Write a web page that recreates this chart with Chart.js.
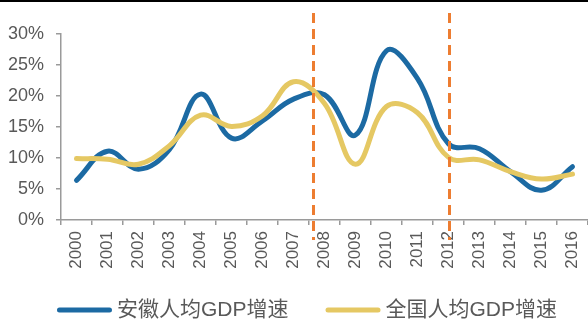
<!DOCTYPE html>
<html>
<head>
<meta charset="utf-8">
<script src="https://cdn.jsdelivr.net/npm/chart.js@4/dist/chart.umd.min.js"></script>
<style>
  html, body { margin: 0; padding: 0; background: #ffffff; overflow: hidden; }
  #wrap { position: relative; width: 588px; height: 320px; }
</style>
</head>
<body>
<div id="wrap"><canvas id="growth" width="588" height="320"></canvas></div>
<script>
// Per-capita GDP growth, Anhui vs. national (%)
const years = ['2000', '2001', '2002', '2003', '2004', '2005', '2006', '2007', '2008',
               '2009', '2010', '2011', '2012', '2013', '2014', '2015', '2016'];
const anhuiGrowth    = [6.4, 11.1, 8.2, 11.4, 20.3, 13.2, 16.0, 19.5, 20.2,
                        13.7, 27.3, 22.8, 12.3, 11.5, 7.8, 4.8, 8.6];
const nationalGrowth = [9.9, 9.8, 9.0, 12.0, 16.9, 15.1, 16.8, 22.3, 18.8,
                        9.0, 18.3, 17.3, 10.1, 9.7, 7.8, 6.6, 7.4];
const seriesNames = ['安徽人均GDP增速', '全国人均GDP增速'];
const yTickValues = [0, 5, 10, 15, 20, 25, 30];
// Period boundaries, in category-index units along the year axis
const periodMarks = [7.62, 12];

const FONT = '"Liberation Sans", "Noto Sans CJK SC", Arial, sans-serif';
const TEXT = '#595959';
const AXIS = '#9a9a9a';
const BLUE = '#1c6aa3';
const GOLD = '#e5c863';
const ORANGE = '#ed7d31';

// Thin black rule across the top edge
const topRule = {
  id: 'topRule',
  afterDraw(chart) {
    const ctx = chart.ctx;
    ctx.save();
    ctx.fillStyle = '#000000';
    ctx.fillRect(0, 0, chart.width, 2);
    ctx.restore();
  }
};

// Dashed vertical period markers
const periodLines = {
  id: 'periodLines',
  afterDatasetsDraw(chart) {
    const { ctx, chartArea, scales } = chart;
    ctx.save();
    ctx.strokeStyle = ORANGE;
    ctx.lineWidth = 3;
    ctx.setLineDash([10, 6]);
    periodMarks.forEach(m => {
      const x = Math.round(scales.x.getPixelForValue(m)) + 0.5;
      ctx.beginPath();
      ctx.moveTo(x, chartArea.top - 21);
      ctx.lineTo(x, chartArea.bottom + 20);
      ctx.stroke();
    });
    ctx.restore();
  }
};

// Legend row under the axis labels
const legendRow = {
  id: 'legendRow',
  afterDraw(chart) {
    const ctx = chart.ctx;
    const sets = chart.data.datasets;
    const lineLen = 55, gap = 5, itemGap = 37, y = 310;
    ctx.save();
    ctx.font = '21px ' + FONT;
    ctx.textBaseline = 'middle';
    ctx.textAlign = 'left';
    const widths = sets.map(d => ctx.measureText(d.label).width);
    const total = widths.reduce((s, w) => s + lineLen + gap + w, 0) + itemGap * (sets.length - 1);
    let x = chart.width / 2 + 13 - total / 2;
    sets.forEach((d, i) => {
      ctx.strokeStyle = d.borderColor;
      ctx.lineWidth = 5;
      ctx.lineCap = 'round';
      ctx.beginPath();
      ctx.moveTo(x + 2.5, y);
      ctx.lineTo(x + lineLen - 2.5, y);
      ctx.stroke();
      ctx.fillStyle = TEXT;
      ctx.fillText(d.label, x + lineLen + gap, y);
      x += lineLen + gap + widths[i] + itemGap;
    });
    ctx.restore();
  }
};

new Chart(document.getElementById('growth'), {
  type: 'line',
  data: {
    labels: years,
    datasets: [
      {
        label: seriesNames[0],
        data: anhuiGrowth,
        borderColor: BLUE,
        backgroundColor: BLUE,
        borderWidth: 5,
        order: 2
      },
      {
        label: seriesNames[1],
        data: nationalGrowth,
        borderColor: GOLD,
        backgroundColor: GOLD,
        borderWidth: 5,
        order: 1
      }
    ]
  },
  options: {
    responsive: false,
    animation: false,
    devicePixelRatio: 1,
    layout: { padding: { top: 34, left: 0, right: 0, bottom: 0 } },
    elements: {
      line: { tension: 0.4, borderCapStyle: 'round', borderJoinStyle: 'round', fill: false },
      point: { radius: 0, hoverRadius: 0 }
    },
    plugins: {
      legend: { display: false },
      tooltip: { enabled: false }
    },
    scales: {
      x: {
        type: 'category',
        offset: true,
        grid: { offset: true, drawOnChartArea: false, drawTicks: true, tickLength: 5, color: AXIS, lineWidth: 1.5 },
        border: { display: true, color: AXIS, width: 1.5 },
        ticks: {
          autoSkip: false, maxRotation: 90, minRotation: 90, padding: 6,
          color: TEXT, font: { family: FONT, size: 17 }
        },
        afterFit(scale) {
          scale.height = 100;
          scale.paddingLeft = 0;
          scale.paddingRight = 0;
        }
      },
      y: {
        min: 0, max: 30,
        afterBuildTicks(scale) { scale.ticks = yTickValues.map(v => ({ value: v })); },
        grid: { drawOnChartArea: false, drawTicks: true, tickLength: 5, color: AXIS, lineWidth: 1.5 },
        border: { display: true, color: AXIS, width: 1.5 },
        ticks: {
          padding: 12, color: TEXT, font: { family: FONT, size: 18 },
          callback: v => v + '%'
        },
        afterFit(scale) { scale.width = 61; }
      }
    }
  },
  plugins: [topRule, periodLines, legendRow]
});
</script>
</body>
</html>
